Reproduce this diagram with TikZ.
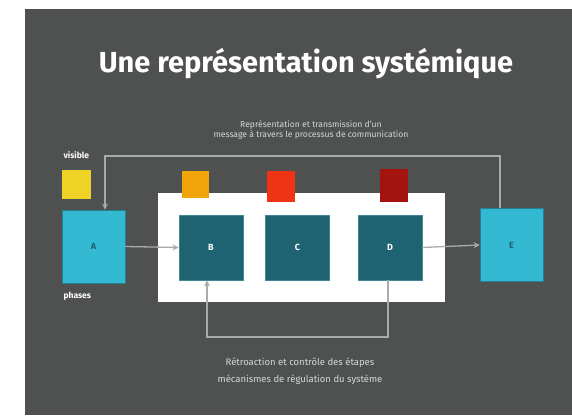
\documentclass[tikz,border=0pt]{standalone}
\usepackage{fontspec}
\setmainfont{Fira Sans}
\usetikzlibrary{arrows.meta}
\definecolor{bgslide}{HTML}{4F5151}
\definecolor{cyanbox}{HTML}{33B9D2}
\definecolor{tealbox}{HTML}{1F6272}
\definecolor{tealedge}{HTML}{3F8A96}
\definecolor{ylw}{HTML}{EED226}
\definecolor{org}{HTML}{F1A50A}
\definecolor{rd}{HTML}{EE3414}
\definecolor{drd}{HTML}{A3140F}
\definecolor{linegray}{HTML}{A9ABAB}
\definecolor{txtgray}{HTML}{D6D8D8}
\tikzset{
  sq/.style={minimum width=#1, minimum height=#1, inner sep=0pt},
  ext/.style={fill=cyanbox, draw=cyanbox!70!black, line width=0.6pt, minimum width=63pt, minimum height=73pt, inner sep=0pt, text=tealbox, font=\bfseries\small},
  inn/.style={fill=tealbox, draw=tealedge, line width=0.8pt, minimum width=64pt, minimum height=65pt, inner sep=0pt, text=white, font=\bfseries\small},
  flow/.style={draw=linegray, line width=1.3pt},
  arr/.style={flow, -{Stealth[length=6pt,width=6pt]}},
  smalltxt/.style={text=txtgray, align=center},
  lbl/.style={text=white, font=\bfseries\fontsize{8.5}{10}\selectfont}
}
\begin{document}
\begin{tikzpicture}[x=1pt,y=-1pt]
\useasboundingbox (0,0) rectangle (572,415);
\fill[white] (0,0) rectangle (572,415);
\fill[bgslide] (25,9) rectangle (572,415);
% title
\node[text=white, font=\bfseries\fontsize{29}{32}\selectfont] (title) at (306,64) {Une représentation systémique};
% top text
\node[smalltxt, font=\fontsize{8.6}{10.5}\selectfont] (toptxt) at (311,130) {Représentation et transmission d'un\\message à travers le processus de communication};
% white panel
\node[fill=white, minimum width=287pt, minimum height=109pt, inner sep=0pt] (panel) at (301.5,247.5) {};
% colored squares
\node[fill=ylw, sq=29pt] (ys) at (76,184) {};
\node[fill=org, sq=27pt] (os) at (195,184) {};
\node[fill=rd, minimum width=28pt, minimum height=31pt, inner sep=0pt] (rs) at (281,186) {};
\node[fill=drd, minimum width=28pt, minimum height=33pt, inner sep=0pt] (ds) at (394,185) {};
% boxes
\node[ext] (A) at (93.5,246.5) {A};
\node[ext] (E) at (511.5,245) {E};
\node[inn] (B) at (211,247.5) {B};
\node[inn] (C) at (297.5,247.5) {C};
\node[inn] (D) at (390,247.5) {D};
% labels
\node[lbl, anchor=west] (l1) at (60,155) {visible};
\node[lbl, anchor=west] (l2) at (60,296) {phases};
% connectors
\draw[arr] (A.east) -- (B.west);
\draw[arr] (D.east) -- (E.west);
\coordinate (t1) at (500,156);
\coordinate (t2) at (105,156);
\draw[arr] (E.north -| t1) -- (t1) -- (t2) -- (A.north -| t2);
\coordinate (b1) at (388,337);
\coordinate (b2) at (207,337);
\draw[arr] (D.south -| b1) -- (b1) -- (b2) -- (B.south -| b2);
% bottom text
\node[smalltxt, font=\fontsize{9.5}{17}\selectfont] (bottxt) at (300,371) {Rétroaction et contrôle des étapes\\mécanismes de régulation du système};
\end{tikzpicture}
\end{document}
